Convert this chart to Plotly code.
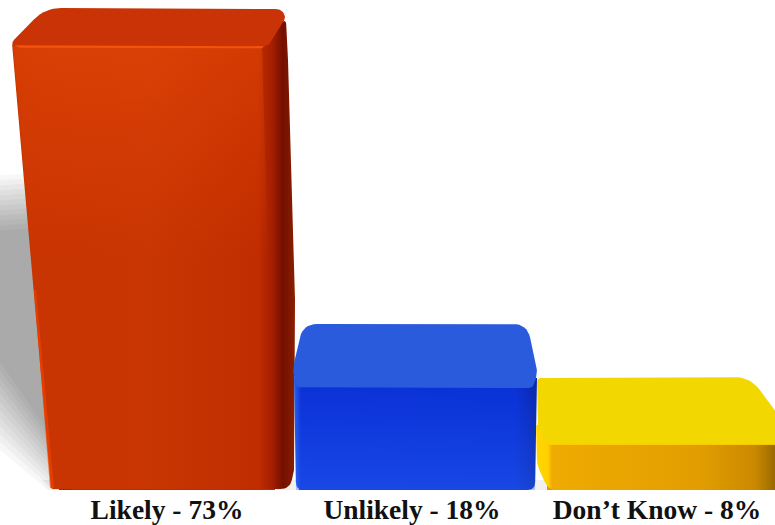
import plotly.graph_objects as go

# ---- data ----
categories = ["Likely", "Unlikely", "Don’t Know"]
values = [73, 18, 8]
tick_labels = ["Likely - 73%", "Unlikely - 18%", "Don’t Know - 8%"]

# ---- style / projection ----
W, H, BOTTOM = 775, 525, 35
BASE_PX = 490          # pixel row of value 0
PX_PER_UNIT = 6.08     # pixels per percentage point
STEP_PX, X0_PX = 245, 167


def X(p):
    return (p - X0_PX) / STEP_PX


def Y(p):
    return (BASE_PX - p) / PX_PER_UNIT


def rounded(points):
    """points: (x, y, r) in pixels. Returns a closed outline with rounded corners."""
    n, xs, ys = len(points), [], []
    for i in range(n):
        x0, y0, _ = points[i - 1]
        x1, y1, r = points[i]
        x2, y2, _ = points[(i + 1) % n]
        d0 = max(((x0 - x1) ** 2 + (y0 - y1) ** 2) ** 0.5, 1e-6)
        d2 = max(((x2 - x1) ** 2 + (y2 - y1) ** 2) ** 0.5, 1e-6)
        ax, ay = x1 + (x0 - x1) * min(r / d0, .5), y1 + (y0 - y1) * min(r / d0, .5)
        bx, by = x1 + (x2 - x1) * min(r / d2, .5), y1 + (y2 - y1) * min(r / d2, .5)
        for k in range(9):
            t = k / 8
            xs.append((1 - t) ** 2 * ax + 2 * t * (1 - t) * x1 + t * t * bx)
            ys.append((1 - t) ** 2 * ay + 2 * t * (1 - t) * y1 + t * t * by)
    xs.append(xs[0])
    ys.append(ys[0])
    return [X(v) for v in xs], [Y(v) for v in ys]


def stops(pairs, a, b):
    return [[(p - a) / (b - a), c] for p, c in pairs]


def poly(points, solid=None, horiz=None, vert=None):
    xs, ys = rounded(points)
    kw = dict(x=xs, y=ys, mode="lines", line=dict(width=0), fill="toself",
              hoverinfo="skip", showlegend=False)
    if solid:
        kw["fillcolor"] = solid
    if horiz:
        a, b = horiz[0][0], horiz[-1][0]
        kw["fillgradient"] = dict(type="horizontal", colorscale=stops(horiz, a, b),
                                  start=X(a), stop=X(b))
    if vert:
        a, b = vert[0][0], vert[-1][0]
        kw["fillgradient"] = dict(type="vertical", colorscale=stops(vert, a, b),
                                  start=Y(a), stop=Y(b))
    return go.Scatter(**kw)


fig = go.Figure()

# the bars themselves, from the values
fig.add_trace(go.Bar(x=[0, 1, 2], y=values, width=[.88, .92, .9],
                     marker=dict(color=["#c93400", "#0c32d8", "#eaa400"], line=dict(width=0)),
                     hovertext=categories, hoverinfo="text", showlegend=False))

# soft shadows
for k in range(12):
    fig.add_trace(poly([(-30, 178 + k * 5, 0), (45, 172 + k * 5, 0), (72, 510 - k * 4, 0),
                        (0, 450 - k * 8, 0)], solid="rgba(0,0,0,0.03)"))
for k in range(5):
    fig.add_trace(poly([(40 + k, 480, 0), (800, 480, 0), (800, 505 - k * 3, 0),
                        (55 + k, 505 - k * 3, 0)], solid="rgba(0,0,0,0.012)"))

red_y, blue_y, yel_y = [BASE_PX - v * PX_PER_UNIT for v in values]

# red bar
fig.add_trace(poly([(12, red_y - 3, 2), (200, red_y, 0), (286, 20, 4), (288, 60, 0), (295, 300, 0),
                    (294, 470, 0), (290, 489, 10), (51, 489, 2)],
                   horiz=[(12, "#c43200"), (30, "#c83402"), (150, "#c83603"), (258, "#c02d00"),
                          (272, "#a51f00"), (283, "#741000"), (295, "#8a1e00")]))
fig.add_trace(poly([(13, red_y, 0), (262, red_y, 0), (268, 260, 0), (32, 260, 0)],
                   vert=[(46, "rgba(255,90,10,0.30)"), (150, "rgba(255,85,10,0.16)"),
                         (260, "rgba(255,80,0,0)")]))
fig.add_trace(poly([(34, 290, 0), (36, 290, 0), (54, 488, 0), (50, 488, 0)], solid="rgba(245,70,0,0.6)"))
fig.add_trace(poly([(12, 42, 3), (45, 8, 16), (281, 9, 6), (286, 17, 4), (268, red_y + 1, 8), (13, red_y - 1, 0)],
                   solid="#c93306"))
fig.add_trace(poly([(14, red_y - 1, 0), (264, red_y, 0), (262, red_y + 2, 0), (20, red_y + 1.5, 0)],
                   solid="#f5530a"))

# blue bar
fig.add_trace(poly([(294, 378, 0), (537, 378, 0), (535, 490, 8), (296, 490, 8)],
                   horiz=[(294, "#2a62ec"), (301, "#0c32d8"), (515, "#0a32d6"), (528, "#0a2cc0"),
                          (537, "#0a2aa4")]))
fig.add_trace(poly([(295, 387, 0), (537, 387, 0), (535, 490, 0), (296, 490, 0)],
                   vert=[(387, "rgba(40,100,255,0)"), (490, "rgba(50,110,255,0.36)")]))
fig.add_trace(poly([(292, 372, 12), (303, 324, 14), (527, 324, 14), (538, 372, 10), (533, 388, 5),
                    (298, 388, 3)], solid="#2a5bdc"))

# yellow bar
fig.add_trace(poly([(536, 425, 0), (800, 425, 0), (800, 491, 0), (549, 491, 10), (537, 465, 6)],
                   horiz=[(536, "#ffd800"), (548, "#ffcf00"), (552, "#efab00"), (700, "#e29e00"),
                          (755, "#cb8900"), (775, "#9a6a00")]))
fig.add_trace(poly([(537, 378, 4), (750, 377, 16), (800, 443, 0), (800, 444, 0), (549, 444, 0),
                    (538, 430, 4)], solid="#f2d800"))
fig.add_trace(poly([(549, 443.5, 0), (800, 443.5, 0), (800, 445, 0), (549, 445, 0)],
                   solid="rgba(255,205,0,0.9)"))

fig.update_layout(
    width=W, height=H, margin=dict(l=0, r=0, t=0, b=BOTTOM), autosize=False,
    paper_bgcolor="white", plot_bgcolor="rgba(0,0,0,0)", bargap=0,
    xaxis=dict(range=[X(0), X(W)], tickmode="array", tickvals=[0, 1, 2], ticktext=tick_labels,
               showgrid=False, zeroline=False, showline=False, ticks="",
               tickfont=dict(family="Liberation Serif", size=27.5, color="#111", weight="bold"),
               tickangle=0),
    yaxis=dict(range=[0, BASE_PX / PX_PER_UNIT], visible=False, showgrid=False, zeroline=False),
)

fig.write_html("out.html", config=dict(displayModeBar=False),
               post_script="document.body.style.margin='0';document.documentElement.style.overflow='hidden';")
